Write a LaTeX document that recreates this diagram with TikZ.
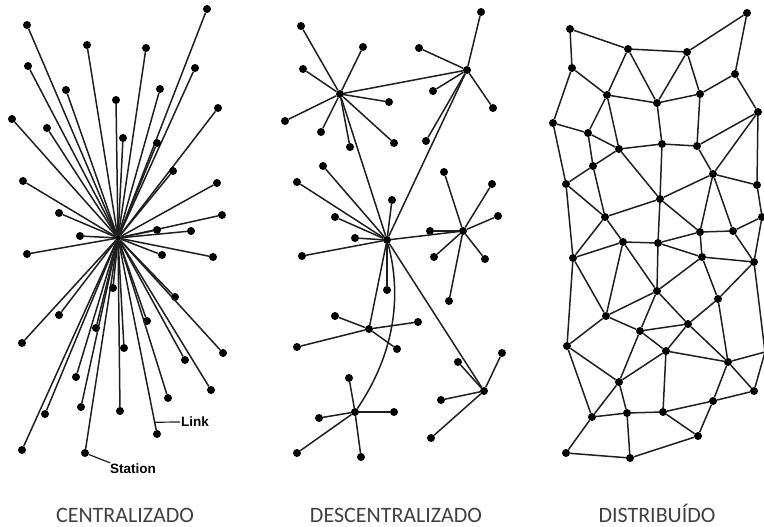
\documentclass[tikz,border=0pt]{standalone}
\usepackage{fontspec}
\setmainfont{Carlito}
\newfontfamily\annfont{Liberation Sans}
\usetikzlibrary{calc}
\begin{document}
\begin{tikzpicture}[x=1pt,y=-1pt,
  dot/.style={circle,fill=black,inner sep=0pt,minimum size=8pt},
  hubdot/.style={circle,fill=black,inner sep=0pt,minimum size=6pt},
  link/.style={line width=1.5pt,black!88},
  ann/.style={font=\annfont\bfseries\fontsize{13.5}{14}\selectfont,inner sep=1pt},
  lbl/.style={font=\fontsize{22}{22}\selectfont,text=black!75,anchor=base}]
\useasboundingbox (0,0) rectangle (764,527);

% ---------------- Centralized ----------------
\node[hubdot] (hubC) at (118,238) {};
\foreach \x/\y [count=\i] in {207/9,27/25,87/45,146/48,28/66,195/68,66/90,160/89,116/100,218/108,
  12/119,47/128,123/138,157/143,173/171,23/181,217/183,59/213,222/215,157/230,191/231,80/236,
  27/254,162/255,213/257,113/288,175/297,59/315,96/328,147/321,22/343,124/348,223/353,185/360,
  76/377,211/390,168/398,81/407,120/411,45/414,157/434,22/450,85/453}
  {\node[dot] (c\i) at (\x,\y) {};
   \draw[link] (hubC) -- (c\i);}
\coordinate (linktip) at ($(hubC)!0.94!(c41)$);
\node[ann] (linklbl) at (195,422) {Link};
\draw[link,line width=1.2pt] (linklbl.west) -- (linktip);
\node[ann] (stlbl) at (133,469) {Station};
\draw[link,line width=1.2pt] (c43) -- (stlbl.165);

% ---------------- Decentralized ----------------
\node[dot] (dA) at (340,94) {};
\node[dot] (dB) at (467,70) {};
\node[dot] (dC) at (387,240) {};
\node[dot] (dD) at (463,231) {};
\node[dot] (dE) at (369,329) {};
\node[dot] (dF) at (355,412) {};
\node[dot] (dG) at (484,391) {};
\foreach \h/\x/\y [count=\i] in {A/301/26,A/363/47,A/303/69,A/389/102,A/285/121,A/321/132,A/350/147,A/394/143,
  B/481/12,B/419/48,B/433/91,B/493/108,B/426/141,
  C/323/166,C/297/182,C/392/200,C/335/217,C/355/238,C/302/256,C/387/290,
  D/444/172,D/492/184,D/498/216,D/430/231,D/434/257,D/485/259,D/449/301,
  E/335/316,E/418/322,E/297/347,E/397/349,
  F/349/378,F/319/418,F/394/412,F/297/453,F/361/457,
  G/502/353,G/458/362,G/441/400,G/431/438}
  {\node[dot] (dl\i) at (\x,\y) {};
   \draw[link] (d\h) -- (dl\i);}
\foreach \a/\b in {A/B,A/C,B/C,C/D,C/E,C/G}
  \draw[link] (d\a) -- (d\b);
\draw[link] (dC) .. controls (401,292) and (397,350) .. (dF);

% ---------------- Distributed ----------------
\foreach \x/\y [count=\i] in {570/29,747/13,628/49,687/52,572/68,735/74,607/95,657/103,700/94,758/112,
  553/123,588/133,619/149,662/144,697/146,593/166,713/174,566/184,757/185,660/199,
  605/217,762/217,700/232,733/231,623/242,658/243,573/258,702/257,754/262,657/291,
  718/299,606/316,640/331,688/324,666/351,567/346,728/362,619/382,754/391,713/401,
  592/417,627/413,663/412,698/436,566/453,630/458}
  {\node[dot] (n\i) at (\x,\y) {};}
\coordinate (nR) at (765,352);
\foreach \a/\b in {1/3,1/5,3/4,4/2,2/6,3/7,3/8,4/8,4/9,5/7,5/11,7/8,8/9,9/6,6/10,
  7/12,7/13,8/14,9/15,11/12,11/18,12/13,12/16,13/14,14/15,15/10,10/17,10/19,15/17,
  13/16,13/20,14/20,16/18,16/21,17/20,17/19,17/23,17/24,18/27,18/21,20/21,20/26,20/23,
  21/25,21/27,23/24,19/22,22/24,22/29,25/26,25/27,25/32,25/30,26/30,26/28,26/23,23/28,
  24/29,28/29,28/30,28/31,29/31,29/R,27/32,27/36,30/32,30/33,30/34,31/34,31/37,
  32/33,32/36,33/34,33/35,33/38,34/35,34/37,35/37,35/38,35/43,36/38,36/41,
  37/39,37/40,37/R,R/39,38/41,38/42,41/42,42/43,43/40,40/39,43/44,40/44,41/45,
  42/46,45/46,46/44}
  \draw[link] (n\a) -- (n\b);

% ---------------- Labels ----------------
\node[lbl] (tC) at (125,522) {CENTRALIZADO};
\node[lbl] (tD) at (396,522) {DESCENTRALIZADO};
\node[lbl] (tE) at (657,522) {DISTRIBUÍDO};
\end{tikzpicture}
\end{document}
